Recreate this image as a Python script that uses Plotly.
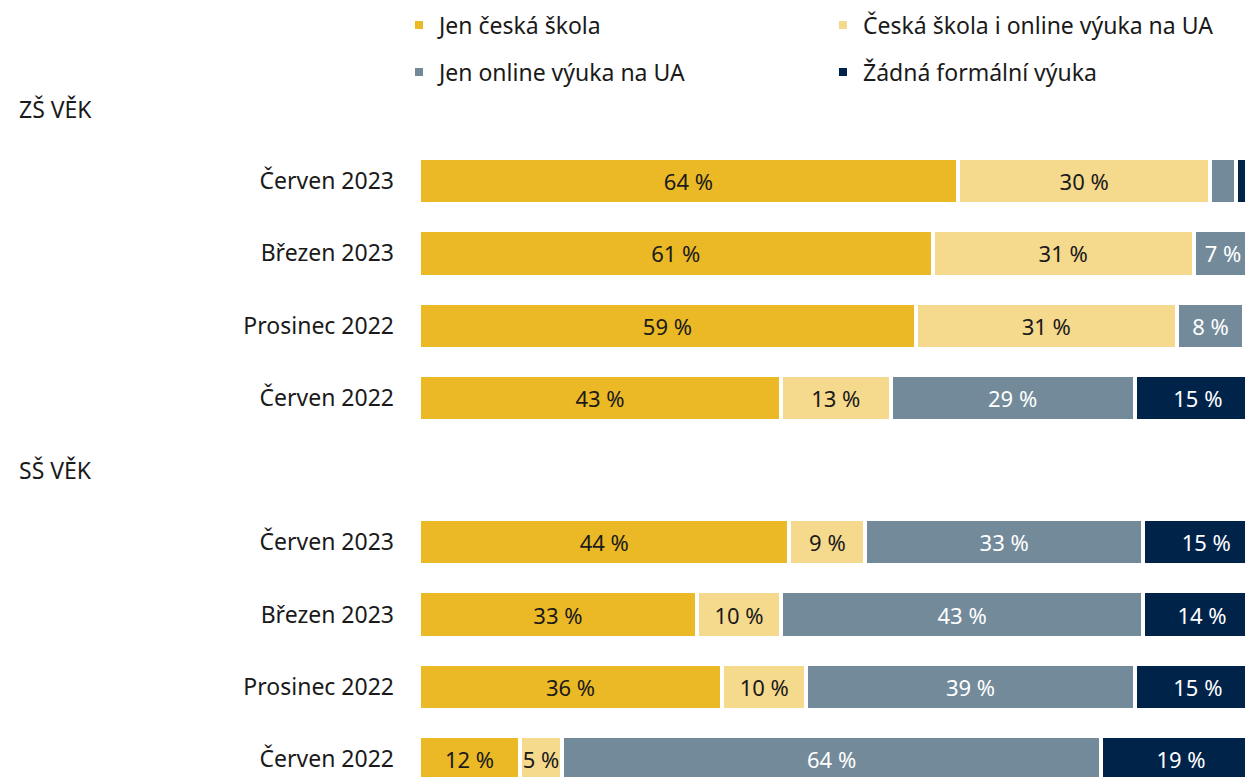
import plotly.graph_objects as go

# Row labels (top to bottom), blank slots hold the group headers
rows = ["", "Červen 2023", "Březen 2023", "Prosinec 2022", "Červen 2022",
        "", "Červen 2023", "Březen 2023", "Prosinec 2022", "Červen 2022"]
groups = ["ZŠ VĚK", "SŠ VĚK"]
group_slots = [0, 5]

series = ["Jen česká škola", "Česká škola i online výuka na UA",
          "Jen online výuka na UA", "Žádná formální výuka"]
colors = ["#EBB925", "#F5D98D", "#728A99", "#00234A"]
text_colors = ["#1a1a1a", "#1a1a1a", "white", "white"]

# values per series, same order as rows (None for header slots)
jen_ceska = [None, 64, 61, 59, 43, None, 44, 33, 36, 12]
ceska_i_online = [None, 30, 31, 31, 13, None, 9, 10, 10, 5]
jen_online = [None, 3, 7, 8, 29, None, 33, 43, 39, 64]
zadna = [None, 3, 1, 2, 15, None, 15, 14, 15, 19]
values = [jen_ceska, ceska_i_online, jen_online, zadna]

ypos = list(range(len(rows)))
FONT = "Noto Sans"
FS = 23

# legend boxes: 2x2 grid above the bars (figure pixels)
leg_x = [391, 815, 391, 815]
leg_y = [17, 17, 64, 64]
leg_names = ["legend", "legend2", "legend3", "legend4"]

fig = go.Figure()
for i, (name, vals) in enumerate(zip(series, values)):
    labels = [f"{v} %" if v is not None and v >= 5 else "" for v in vals]
    fig.add_trace(go.Bar(
        x=vals, y=ypos, orientation="h", name=name,
        marker=dict(color=colors[i], line=dict(color="white", width=4)),
        width=0.64,
        text=labels, textposition="inside", insidetextanchor="middle",
        textangle=0, constraintext="none",
        textfont=dict(color=text_colors[i], size=22, family=FONT),
        hoverinfo="skip",
        legend=leg_names[i],
    ))

for g, s in zip(groups, group_slots):
    fig.add_annotation(text=g, x=-0.4774, xref="paper", y=s, yref="y",
                       xanchor="left", yanchor="middle", showarrow=False,
                       font=dict(size=FS, family=FONT, color="#1a1a1a"))

legends = {}
for n, lx, ly in zip(leg_names, leg_x, leg_y):
    legends[n] = dict(orientation="h", xref="container", yref="container",
                      x=lx / 1253, y=1 - ly / 777, xanchor="left", yanchor="middle",
                      bgcolor="rgba(0,0,0,0)", borderwidth=0,
                      font=dict(size=FS, family=FONT, color="#1a1a1a"))

fig.update_layout(
    barmode="stack",
    showlegend=True,
    width=1253, height=777,
    margin=dict(l=411, r=0, t=0, b=0, autoexpand=False),
    paper_bgcolor="white", plot_bgcolor="white",
    font=dict(family=FONT, size=FS, color="#1a1a1a"),
    xaxis=dict(range=[0, 100], visible=False, fixedrange=True),
    yaxis=dict(range=[9.36, -1.398], tickvals=ypos, ticktext=rows,
               showgrid=False, zeroline=False, showline=False,
               ticks="", ticklabelstandoff=24, automargin=False,
               tickfont=dict(size=FS, family=FONT, color="#1a1a1a")),
    **legends,
)

fig.write_html("out.html")
